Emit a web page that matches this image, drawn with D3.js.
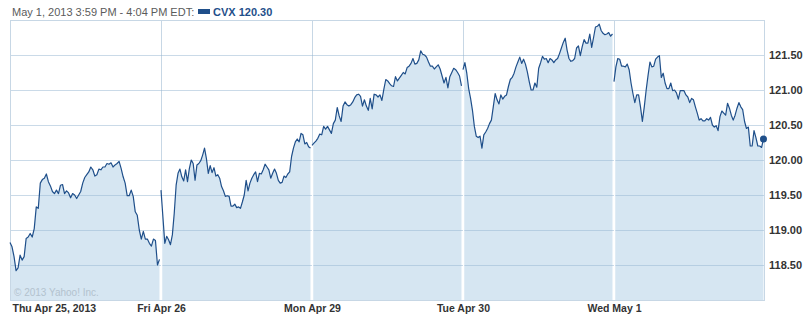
<!DOCTYPE html>
<html>
<head>
<meta charset="utf-8">
<script src="https://cdn.jsdelivr.net/npm/d3@7"></script>
<style>
body { margin: 0; background: #fff; }
svg { display: block; font-family: "Liberation Sans", Arial, sans-serif; }
</style>
</head>
<body>
<svg id="chart" width="803" height="317"></svg>
<script>
// tick labels
const dayLabels = ['Thu Apr 25, 2013', 'Fri Apr 26', 'Mon Apr 29', 'Tue Apr 30', 'Wed May 1'];
const priceTicks = [118.5, 119, 119.5, 120, 120.5, 121, 121.5];

// CVX price, one array per trading day
const thu = [118.82,118.76,118.62,118.42,118.46,118.64,118.57,118.62,118.88,118.90,118.95,118.90,119.02,119.33,119.31,119.67,119.72,119.74,119.80,119.69,119.63,119.55,119.52,119.57,119.52,119.64,119.65,119.52,119.56,119.53,119.46,119.52,119.50,119.45,119.50,119.55,119.67,119.75,119.79,119.83,119.90,119.86,119.77,119.79,119.87,119.86,119.90,119.90,119.95,119.94,119.96,119.90,119.93,119.95,119.98,119.88,119.76,119.67,119.49,119.49,119.57,119.48,119.26,119.21,119.00,118.87,118.98,118.87,118.87,118.81,118.77,118.87,118.85,118.50,118.58];
const fri = [119.57,119.19,118.81,118.91,118.86,118.79,118.93,119.24,119.64,119.81,119.87,119.76,119.70,119.86,119.69,119.88,120.00,119.95,119.71,119.93,119.95,119.99,120.07,120.17,120.02,119.81,119.92,119.82,119.89,119.77,119.79,119.74,119.62,119.56,119.48,119.49,119.48,119.34,119.34,119.37,119.32,119.33,119.31,119.40,119.50,119.71,119.56,119.67,119.74,119.79,119.83,119.69,119.81,119.80,119.86,119.94,119.90,119.86,119.74,119.81,119.87,119.81,119.71,119.67,119.68,119.77,119.75,119.80,119.83,120.05,120.17,120.26,120.30,120.26,120.38,120.36,120.23,120.25,120.19,120.17];
const mon = [120.21,120.24,120.27,120.31,120.37,120.36,120.48,120.44,120.48,120.43,120.38,120.52,120.57,120.75,120.63,120.55,120.77,120.83,120.79,120.77,120.79,120.83,120.89,120.93,120.94,120.91,120.77,120.86,120.77,120.71,120.88,120.73,120.94,120.93,120.90,120.93,120.85,121.01,121.15,121.13,121.09,121.06,121.05,121.19,121.13,121.17,121.21,121.25,121.23,121.32,121.34,121.38,121.45,121.37,121.38,121.43,121.56,121.51,121.50,121.47,121.40,121.34,121.34,121.30,121.33,121.36,121.30,121.20,121.10,121.18,121.03,121.19,121.25,121.31,121.29,121.25,121.20,121.06];
const tue = [121.29,121.39,121.24,121.02,120.88,120.71,120.48,120.34,120.32,120.34,120.17,120.36,120.40,120.45,120.52,120.57,120.76,120.95,120.86,120.80,120.93,120.87,120.91,120.93,121.05,121.15,121.18,121.24,121.33,121.40,121.47,121.38,121.44,121.37,121.26,121.12,121.00,121.00,121.10,121.04,121.31,121.39,121.48,121.44,121.45,121.39,121.45,121.43,121.39,121.43,121.45,121.52,121.60,121.68,121.74,121.57,121.45,121.41,121.42,121.45,121.60,121.63,121.49,121.62,121.72,121.67,121.67,121.80,121.61,121.75,121.90,121.91,121.94,121.85,121.81,121.79,121.80,121.82,121.77,121.80];
const wed = [121.12,121.33,121.45,121.44,121.34,121.34,121.33,121.37,121.29,121.10,120.95,120.82,120.93,120.93,120.76,120.55,120.76,121.00,121.21,121.40,121.33,121.34,121.44,121.47,121.49,121.18,121.24,121.10,121.02,121.02,121.10,120.99,121.00,120.96,120.87,120.99,120.99,120.99,120.93,120.90,120.82,120.88,120.86,120.76,120.67,120.57,120.59,120.56,120.56,120.59,120.57,120.61,120.50,120.47,120.49,120.42,120.62,120.70,120.67,120.64,120.81,120.74,120.64,120.57,120.64,120.74,120.82,120.76,120.72,120.55,120.45,120.47,120.20,120.20,120.42,120.32,120.20,120.20,120.18,120.30];
const days = [thu, fri, mon, tue, wed];

const svg = d3.select('#chart');
const plotLeft = 10, plotRight = 765, plotTop = 20, plotBottom = 300;
const gridColor = '#c7d7e5';
const lineColor = '#1f4f8a';

let x = d3.scaleLinear().domain([0, days.length]).range([plotLeft, plotRight]);
let y = d3.scaleLinear().domain([118, 122]).range([plotBottom, plotTop]);

function points(values, d) {
    return values.map(function(v, i) { return {t: d + i / (values.length - 1) * 0.99, v: v}; });
}

let area = d3.area().x(function(p) { return x(p.t); }).y0(y(118)).y1(function(p) { return y(p.v); });
let line = d3.line().x(function(p) { return x(p.t); }).y(function(p) { return y(p.v); });

// header
svg.append('text')
    .attr('x', 12).attr('y', 16)
    .attr('font-size', 11).attr('fill', '#5b5b5b')
    .text('May 1, 2013 3:59 PM - 4:04 PM EDT:');
svg.append('rect')
    .attr('x', 198).attr('y', 9).attr('width', 12).attr('height', 5)
    .attr('fill', lineColor);
svg.append('text')
    .attr('x', 213).attr('y', 16)
    .attr('font-size', 11).attr('font-weight', 'bold').attr('fill', lineColor)
    .text('CVX ' + wed[wed.length - 1].toFixed(2));

// day separators (grey part, above the fill)
svg.append('g').selectAll('line')
    .data(d3.range(1, days.length))
    .enter().append('line')
    .attr('x1', function(d) { return Math.round(x(d)) + 0.5; })
    .attr('x2', function(d) { return Math.round(x(d)) + 0.5; })
    .attr('y1', plotTop).attr('y2', plotBottom)
    .attr('stroke', gridColor);

// fill
let defs = svg.append('defs');
let clip = defs.append('clipPath').attr('id', 'areaClip');
days.forEach(function(values, d) {
    svg.append('path')
        .attr('d', area(points(values, d)))
        .attr('fill', '#d6e6f2');
    clip.append('path').attr('d', area(points(values, d)));
});

// horizontal grid
svg.append('g').selectAll('line')
    .data(priceTicks)
    .enter().append('line')
    .attr('x1', plotLeft).attr('x2', plotRight - 1)
    .attr('y1', function(d) { return Math.round(y(d)) + 0.5; })
    .attr('y2', function(d) { return Math.round(y(d)) + 0.5; })
    .attr('stroke', 'rgba(150,182,210,0.5)');

// day separators (white part, inside the fill)
svg.append('g').attr('clip-path', 'url(#areaClip)').selectAll('line')
    .data(d3.range(1, days.length))
    .enter().append('line')
    .attr('x1', function(d) { return Math.round(x(d)) + 0.5; })
    .attr('x2', function(d) { return Math.round(x(d)) + 0.5; })
    .attr('y1', plotTop).attr('y2', plotBottom)
    .attr('stroke', '#fff').attr('stroke-width', 1.5);

// frame
svg.append('rect')
    .attr('x', plotLeft + 0.5).attr('y', plotTop + 0.5)
    .attr('width', plotRight - plotLeft - 1).attr('height', plotBottom - plotTop)
    .attr('fill', 'none').attr('stroke', gridColor);

// copyright
svg.append('text')
    .attr('x', 14).attr('y', 296)
    .attr('font-size', 10).attr('fill', '#b3c2ce')
    .text('\u00a9 2013 Yahoo! Inc.');

// price line
days.forEach(function(values, d) {
    svg.append('path')
        .attr('d', line(points(values, d)))
        .attr('fill', 'none')
        .attr('stroke', lineColor)
        .attr('stroke-width', 1.2)
        .attr('stroke-linejoin', 'round');
});

// last price dot
let last = points(wed, 4).pop();
svg.append('circle')
    .attr('cx', x(last.t)).attr('cy', y(last.v)).attr('r', 3.5)
    .attr('fill', lineColor);

// y axis
let yAxis = d3.axisRight(y).tickValues(priceTicks).tickFormat(d3.format('.2f')).tickSize(0).tickPadding(5);
let gy = svg.append('g').attr('transform', 'translate(' + (plotRight - 1) + ',0)').call(yAxis);
gy.select('.domain').remove();
gy.selectAll('text')
    .attr('font-family', '"Liberation Sans", Arial, sans-serif')
    .attr('font-size', 11).attr('font-weight', 'bold').attr('fill', '#333');

// x axis
let xAxis = d3.axisBottom(x).tickValues(d3.range(0, days.length))
    .tickFormat(function(d) { return dayLabels[d]; }).tickSize(0).tickPadding(5);
let gx = svg.append('g').attr('transform', 'translate(0,' + plotBottom + ')').call(xAxis);
gx.select('.domain').remove();
gx.selectAll('text')
    .attr('font-family', '"Liberation Sans", Arial, sans-serif')
    .attr('font-size', 10.5).attr('font-weight', 'bold').attr('fill', '#333');
gx.selectAll('.tick').filter(function(d) { return d === 0; }).select('text')
    .attr('text-anchor', 'start').attr('x', 2);
</script>
</body>
</html>
